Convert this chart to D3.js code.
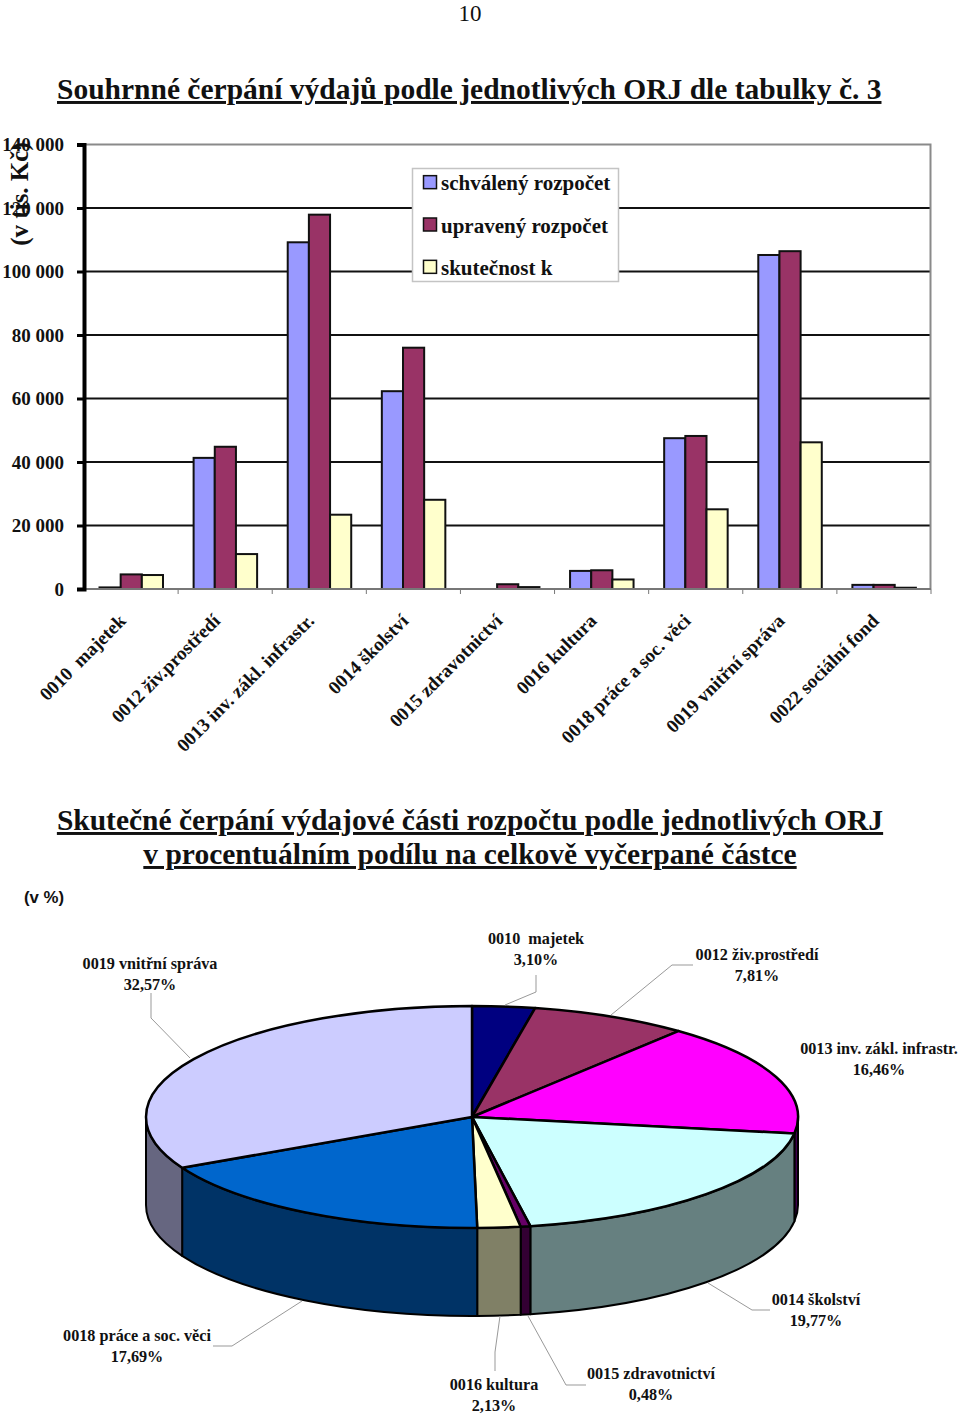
<!DOCTYPE html>
<html>
<head>
    <meta charset="utf-8">
    <title>Souhrnné čerpání výdajů</title>
    <script src="https://d3js.org/d3.v7.min.js"></script>
    <style>
        body { margin: 0; background: white; }
        svg { display: block; }
        text { font-family: "Liberation Serif", "Times New Roman", serif; fill: #111; white-space: pre; }
        .heading { font-size: 29.5px; font-weight: bold; text-decoration: underline; }
        .tick-label { font-size: 19px; font-weight: bold; }
        .cat-label { font-size: 19px; font-weight: bold; }
        .legend-label { font-size: 21px; font-weight: bold; }
        .pie-label { font-size: 16.2px; font-weight: bold; }
    </style>
</head>
<body>
    <svg id="page" width="960" height="1418"></svg>

    <script>
        // bar chart data (tis. Kc)
        var categories = ["0010  majetek", "0012 živ.prostředí", "0013 inv. zákl. infrastr.", "0014 školství",
            "0015 zdravotnictví", "0016 kultura", "0018 práce a soc. věci", "0019 vnitřní správa", "0022 sociální fond"];
        var seriesNames = ["schválený rozpočet", "upravený rozpočet", "skutečnost k"];
        var seriesColors = ["#9999FF", "#993366", "#FFFFCC"];
        var schvaleny = [500, 41300, 109200, 62300, 0, 5700, 47500, 105200, 1300];
        var upraveny = [4600, 44800, 117900, 76000, 1500, 5900, 48200, 106400, 1300];
        var skutecnost = [4400, 11000, 23400, 28100, 600, 3000, 25100, 46200, 400];
        var yTicks = [0, 20000, 40000, 60000, 80000, 100000, 120000, 140000];

        // pie data
        var pieNames = ["0010  majetek", "0012 živ.prostředí", "0013 inv. zákl. infrastr.", "0014 školství",
            "0015 zdravotnictví", "0016 kultura", "0018 práce a soc. věci", "0019 vnitřní správa"];
        var pieValues = [3.10, 7.81, 16.46, 19.77, 0.48, 2.13, 17.69, 32.57];
        var pieColors = ["#000080", "#993366", "#FF00FF", "#CCFFFF", "#660066", "#FFFFCC", "#0066CC", "#CCCCFF"];
        var pieSideColors = ["#000040", "#4D1A33", "#400050", "#668080", "#330033", "#808066", "#003366", "#666680"];

        // layout of the pie labels, same order as pieNames
        var labelPos = [[536, 944], [757, 960], [879, 1054], [816, 1305], [651, 1379], [494, 1390], [137, 1341], [150, 969]];
        var leaders = [
            [[536, 975], [536, 992], [505, 1005]],
            [[693, 965], [672, 965], [611, 1015]],
            [],
            [[770, 1310], [752, 1310], [708, 1283]],
            [[586, 1385], [566, 1385], [528, 1316]],
            [[495, 1371], [495, 1352], [500, 1316]],
            [[213, 1346], [232, 1346], [302, 1301]],
            [[151, 993], [151, 1018], [190, 1058]]
        ];

        var svg = d3.select("#page");

        svg.append("text").attr("x", 470).attr("y", 21).attr("text-anchor", "middle")
            .style("font-size", "23px").text("10");
        svg.append("text").attr("class", "heading").attr("x", 57).attr("y", 99)
            .text("Souhrnné čerpání výdajů podle jednotlivých ORJ dle tabulky č. 3");
        svg.append("text").attr("class", "heading").attr("x", 470).attr("y", 830).attr("text-anchor", "middle")
            .text("Skutečné čerpání výdajové části rozpočtu podle jednotlivých ORJ");
        svg.append("text").attr("class", "heading").attr("x", 470).attr("y", 864).attr("text-anchor", "middle")
            .text("v procentuálním podílu na celkově vyčerpané částce");
        svg.append("text").attr("x", 24).attr("y", 903)
            .style("font-family", "'Liberation Sans', Arial, sans-serif").style("font-size", "16.8px").style("font-weight", "bold")
            .text("(v %)");

        drawBars();
        drawPie();

        function drawBars()
        {
            var y = d3.scaleLinear().domain([0, 140000]).range([589, 144.5]);
            var x = d3.scaleBand().domain(categories).range([84, 931]);
            var xs = d3.scaleBand().domain(seriesNames).range([15.5, 79]);
            var allSeries = [schvaleny, upraveny, skutecnost];

            // gridlines
            svg.append("g").selectAll("line").data(yTicks.filter(function(d) { return d > 0 && d < 140000; }))
                .enter().append("line")
                .attr("x1", 84).attr("x2", 931)
                .attr("y1", y).attr("y2", y)
                .attr("stroke", "#111").attr("stroke-width", 2);

            // frame top and right
            svg.append("path")
                .attr("d", "M84," + y(140000) + "H930.5V" + y(0))
                .attr("fill", "none").attr("stroke", "#8a8a8a").attr("stroke-width", 2);

            // bars
            seriesNames.forEach(function(name, s)
            {
                var rows = categories.map(function(c, i) { return { cat: c, value: allSeries[s][i] }; })
                    .filter(function(d) { return d.value > 0; });

                svg.append("g").selectAll("rect").data(rows)
                    .enter().append("rect")
                    .attr("x", function(d) { return x(d.cat) + xs(name); })
                    .attr("width", xs.bandwidth())
                    .attr("y", function(d) { return y(d.value); })
                    .attr("height", function(d) { return y(0) - y(d.value); })
                    .attr("fill", seriesColors[s])
                    .attr("stroke", "#111").attr("stroke-width", 2);
            });

            // x axis
            svg.append("line").attr("x1", 84).attr("x2", 931).attr("y1", y(0)).attr("y2", y(0))
                .attr("stroke", "#777").attr("stroke-width", 2);
            svg.append("g").selectAll("line").data(categories)
                .enter().append("line")
                .attr("x1", function(d) { return x(d) + x.bandwidth(); })
                .attr("x2", function(d) { return x(d) + x.bandwidth(); })
                .attr("y1", y(0)).attr("y2", y(0) + 5)
                .attr("stroke", "#777").attr("stroke-width", 1);

            svg.append("g").selectAll("text").data(categories)
                .enter().append("text")
                .attr("class", "cat-label")
                .attr("text-anchor", "end")
                .attr("transform", function(d)
                {
                    return "translate(" + (x(d) + x.bandwidth() / 2 - 4) + ",622) rotate(-45)";
                })
                .text(function(d) { return d; });

            // y axis
            var axis = d3.axisLeft(y).tickValues(yTicks).tickSize(7).tickPadding(13)
                .tickFormat(function(d) { return d3.format(",")(d).replace(",", " "); });
            var gy = svg.append("g").attr("transform", "translate(84,0)").call(axis);
            gy.select(".domain").attr("stroke", "#000").attr("stroke-width", 4);
            gy.selectAll(".tick line").attr("stroke", "#000").attr("stroke-width", 3);
            gy.selectAll(".tick text").attr("class", "tick-label").attr("fill", "#111");
            gy.attr("font-family", null).attr("font-size", null);

            svg.append("text").attr("transform", "translate(28,194) rotate(-90)")
                .attr("text-anchor", "middle")
                .style("font-size", "25px").style("font-weight", "bold")
                .text("(v tis. Kč)");

            // legend
            svg.append("rect").attr("x", 412.5).attr("y", 168.5).attr("width", 206).attr("height", 113)
                .attr("fill", "white").attr("stroke", "#c4c4c4").attr("stroke-width", 1.5);
            var rows = d3.scaleBand().domain(seriesNames).range([161, 288]);
            var leg = svg.append("g").selectAll("g").data(seriesNames).enter().append("g")
                .attr("transform", function(d) { return "translate(0," + (rows(d) + rows.bandwidth() / 2) + ")"; });
            leg.append("rect").attr("x", 423.5).attr("y", -6.5).attr("width", 13).attr("height", 13)
                .attr("fill", function(d, i) { return seriesColors[i]; })
                .attr("stroke", "#111").attr("stroke-width", 1.5);
            leg.append("text").attr("class", "legend-label").attr("x", 441).attr("y", 8).text(function(d) { return d; });
        }

        function drawPie()
        {
            var cx = 472, cy = 1117, rx = 326, ry = 111, depth = 88;

            var pie = d3.pie().sort(null)(pieValues);
            var arc = d3.arc().innerRadius(0).outerRadius(rx);

            function pt(a, dy)
            {
                return (rx * Math.sin(a)) + "," + (-ry * Math.cos(a) + (dy || 0));
            }

            var g = svg.append("g").attr("transform", "translate(" + cx + "," + cy + ")");

            // side wall, only the front half of the pie shows
            var front = pie.filter(function(d) { return d.endAngle > Math.PI / 2 && d.startAngle < Math.PI * 1.5; });
            g.selectAll("path.side").data(front).enter().append("path")
                .attr("class", "side")
                .attr("d", function(d)
                {
                    var a0 = Math.max(d.startAngle, Math.PI / 2);
                    var a1 = Math.min(d.endAngle, Math.PI * 1.5);
                    var r = rx + " " + ry + " 0 0 ";
                    return "M" + pt(a0) + "A" + r + "1 " + pt(a1) + "L" + pt(a1, depth) + "A" + r + "0 " + pt(a0, depth) + "Z";
                })
                .attr("fill", function(d) { return pieSideColors[d.index]; })
                .attr("stroke", "#000").attr("stroke-width", 2).attr("stroke-linejoin", "round");

            // top face
            g.append("g").attr("transform", "scale(1," + (ry / rx) + ")")
                .selectAll("path").data(pie).enter().append("path")
                .attr("d", arc)
                .attr("fill", function(d) { return pieColors[d.index]; })
                .attr("stroke", "#000").attr("stroke-width", 2.5)
                .attr("stroke-linejoin", "round")
                .attr("vector-effect", "non-scaling-stroke");

            // leader lines
            var line = d3.line();
            svg.append("g").selectAll("path").data(leaders).enter().append("path")
                .attr("d", function(d) { return d.length ? line(d) : null; })
                .attr("fill", "none").attr("stroke", "#999").attr("stroke-width", 1);

            // labels
            var labels = svg.append("g").selectAll("text").data(pie).enter().append("text")
                .attr("class", "pie-label").attr("text-anchor", "middle");
            labels.append("tspan")
                .attr("x", function(d) { return labelPos[d.index][0]; })
                .attr("y", function(d) { return labelPos[d.index][1]; })
                .text(function(d) { return pieNames[d.index]; });
            labels.append("tspan")
                .attr("x", function(d) { return labelPos[d.index][0]; })
                .attr("y", function(d) { return labelPos[d.index][1] + 21; })
                .text(function(d) { return d.value.toFixed(2).replace(".", ",") + "%"; });
        }
    </script>
</body>
</html>
